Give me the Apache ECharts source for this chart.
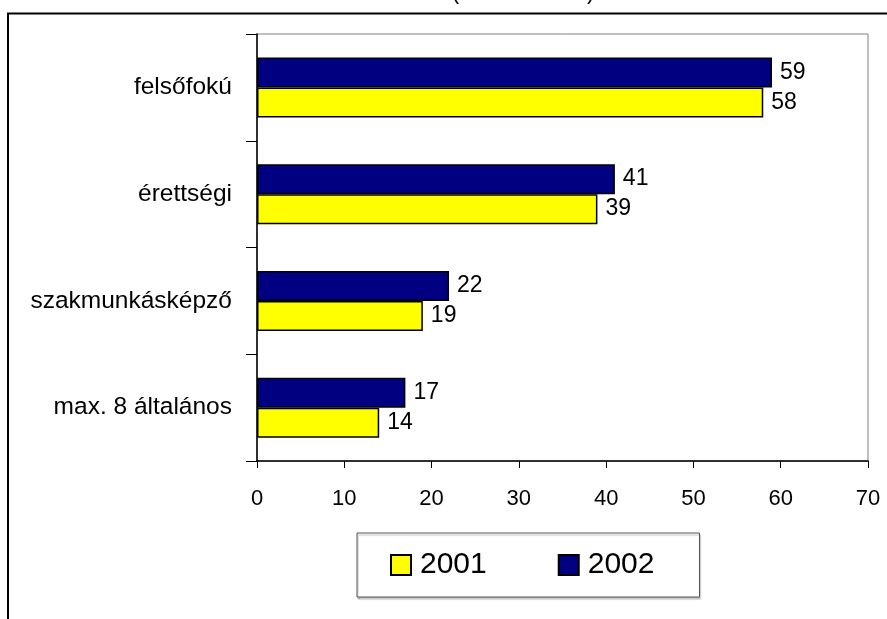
<!DOCTYPE html>
<html>
<head>
<meta charset="utf-8">
<script src="https://cdn.jsdelivr.net/npm/echarts@6/dist/echarts.min.js"></script>
<style>html,body{margin:0;padding:0;background:#fff;}#c{width:887px;height:619px;}</style>
</head>
<body>
<div id="c"></div>
<script>
const categories = ['max. 8 általános', 'szakmunkásképző', 'érettségi', 'felsőfokú'];
const values2001 = [14, 19, 39, 58];
const values2002 = [17, 22, 41, 59];
const seriesNames = ['2001', '2002'];
const xTicks = { min: 0, max: 70, interval: 10 };
const titleText = '(százalékban)';

const REG = "'Liberation Sans', Arial, sans-serif";

const chart = echarts.init(document.getElementById('c'), null, { renderer: 'canvas' });
const barBorder = { borderColor: '#000', borderWidth: 1.5 };
const valueLabel = { show: true, position: 'right', distance: 8, color: '#000', fontFamily: REG, fontSize: 23 };
chart.setOption({
  animation: false,
  backgroundColor: '#fff',
  graphic: [
    { type: 'rect', shape: { x: 8, y: 13.5, width: 950, height: 700 }, style: { fill: 'none', stroke: '#000', lineWidth: 2 }, z: 0 },
    { type: 'text', x: 523, y: 4, style: { text: titleText, font: "23px " + REG, fill: '#000', textAlign: 'center', textVerticalAlign: 'bottom' }, z: 1 }
  ],
  grid: { left: 257, right: 19, top: 34, bottom: 158, show: true, borderColor: '#808080', borderWidth: 1, containLabel: false },
  legend: {
    data: seriesNames,
    left: 357, top: 533,
    orient: 'horizontal',
    icon: 'rect',
    itemWidth: 20, itemHeight: 20,
    itemGap: 71,
    padding: [17, 45, 17, 33],
    backgroundColor: '#fff',
    borderColor: '#555',
    borderWidth: 1,
    shadowColor: 'rgba(0,0,0,0.25)', shadowOffsetX: 1, shadowOffsetY: 2, shadowBlur: 1,
    textStyle: { fontFamily: REG, fontSize: 30, color: '#000', padding: [0, 0, 0, 4] }
  },
  xAxis: {
    type: 'value', min: xTicks.min, max: xTicks.max, interval: xTicks.interval,
    splitLine: { show: false },
    axisLine: { show: true, lineStyle: { color: '#000', width: 1.5 } },
    axisTick: { show: true, length: 7, lineStyle: { color: '#000', width: 1 } },
    axisLabel: { color: '#000', fontFamily: REG, fontSize: 22, margin: 27 }
  },
  yAxis: {
    type: 'category', data: categories,
    axisLine: { show: true, lineStyle: { color: '#000', width: 1.5 } },
    axisTick: { show: true, length: 11, lineStyle: { color: '#000', width: 1 } },
    axisLabel: { color: '#000', fontFamily: REG, fontSize: 24.5, margin: 25 }
  },
  series: [
    {
      name: seriesNames[1], type: 'bar', data: values2002, barWidth: 30, barGap: '0%',
      itemStyle: Object.assign({ color: '#000080' }, barBorder),
      label: valueLabel
    },
    {
      name: seriesNames[0], type: 'bar', data: values2001, barWidth: 30, barGap: '0%',
      itemStyle: Object.assign({ color: '#FFFF00' }, barBorder),
      label: valueLabel
    }
  ]
});
</script>
</body>
</html>
